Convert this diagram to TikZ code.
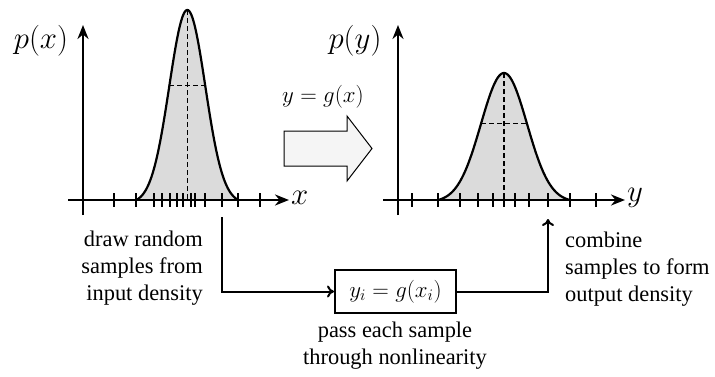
\documentclass[tikz,border=0pt]{standalone}
\usepackage{fix-cm}
\usepackage{fontspec}
\setmainfont{Liberation Serif}
\newfontfamily\tms{Liberation Serif}
\usetikzlibrary{arrows.meta}
\begin{document}
\begin{tikzpicture}[x=1bp,y=-1bp,
  axis/.style={line width=2.6bp,-{Stealth[length=14bp,width=11bp]}},
  tick/.style={line width=2.2bp},
  curve/.style={line width=2.2bp},
  guide/.style={line width=1.2bp,dash pattern=on 5bp off 3bp},
  conn/.style={line width=2bp,-{To[length=7bp,width=12bp]}},
  txt/.style={inner sep=0pt,font=\tms\fontsize{22.5}{27}\selectfont},
  lbl/.style={inner sep=0pt,font=\fontsize{31}{37}\selectfont},
  mapbox/.style={draw,line width=2bp,minimum width=121bp,minimum height=43bp,inner sep=0pt,font=\fontsize{23}{27}\selectfont}
]
\useasboundingbox (0,0) rectangle (715,376);
% ---- left plot
\fill[black!14] plot[domain=136:238,samples=120] (\x,{200-190*(exp(-((\x-187.3)/18)^2/2)-0.0183)/0.9817}) -- cycle;
\draw[curve] plot[domain=136:238,samples=120] (\x,{200-190*(exp(-((\x-187.3)/18)^2/2)-0.0183)/0.9817});
\draw[guide] (187.3,10) -- (187.3,200);
\draw[guide] (169.3,85.3) -- (205.3,85.3);
\foreach \t in {114,136,154.3,162.3,170,177.3,183.3,190.7,195,205,221.7,238.3,260}
  \draw[tick] (\t,193) -- (\t,207);
\coordinate (yl0) at (83,215);
\coordinate (yl1) at (83,25);
\coordinate (xl0) at (68,200);
\coordinate (xl1) at (289,200);
\draw[axis] (yl0) -- (yl1);
\draw[axis] (xl0) -- (xl1);
\node[lbl] (px) at (41,41) {$p(x)$};
\node[lbl,anchor=west] (xlab) at (291,198) {$x$};
% ---- right plot
\fill[black!14] plot[domain=438:570,samples=120] (\x,{200-127*(exp(-((\x-504)/23)^2/2)-0.0163)/0.9837}) -- cycle;
\draw[curve] plot[domain=438:570,samples=120] (\x,{200-127*(exp(-((\x-504)/23)^2/2)-0.0163)/0.9837});
\draw[guide] (504,73) -- (504,200);
\draw[guide] (481,123.3) -- (527,123.3);
\foreach \t in {412,438,460,478,493,504,515,529,548,570,596}
  \draw[tick] (\t,193) -- (\t,207);
\coordinate (yr0) at (398,215);
\coordinate (yr1) at (398,25);
\coordinate (xr0) at (383,200);
\coordinate (xr1) at (625,200);
\draw[axis] (yr0) -- (yr1);
\draw[axis] (xr0) -- (xr1);
\node[lbl] (py) at (355,41) {$p(y)$};
\node[lbl,anchor=west] (ylab) at (627,198) {$y$};
% ---- big arrow
\draw[line width=1bp,fill=black!4] (284,131) -- (347,131) -- (347,116) -- (372,148.5) -- (347,181) -- (347,166) -- (284,166) -- cycle;
\node[inner sep=0pt,font=\fontsize{23}{27}\selectfont] (glab) at (323,97) {$y=g(x)$};
% ---- bottom
\node[mapbox] (box) at (395.5,291.5) {$y_i=g(x_i)$};
\coordinate (s1) at (221.7,217);
\coordinate (e1) at (548,219);
\draw[conn] (s1) |- (box.west);
\draw[conn] (box.east) -| (e1);
\node[txt,align=right,anchor=north east] (t1) at (203,231) {draw random\\samples from\\input density};
\node[txt,align=left,anchor=north west] (t2) at (565,232) {combine\\samples to form\\output density};
\node[txt,align=center,anchor=north] (t3) at (395,322) {pass each sample\\through nonlinearity};
\end{tikzpicture}
\end{document}
